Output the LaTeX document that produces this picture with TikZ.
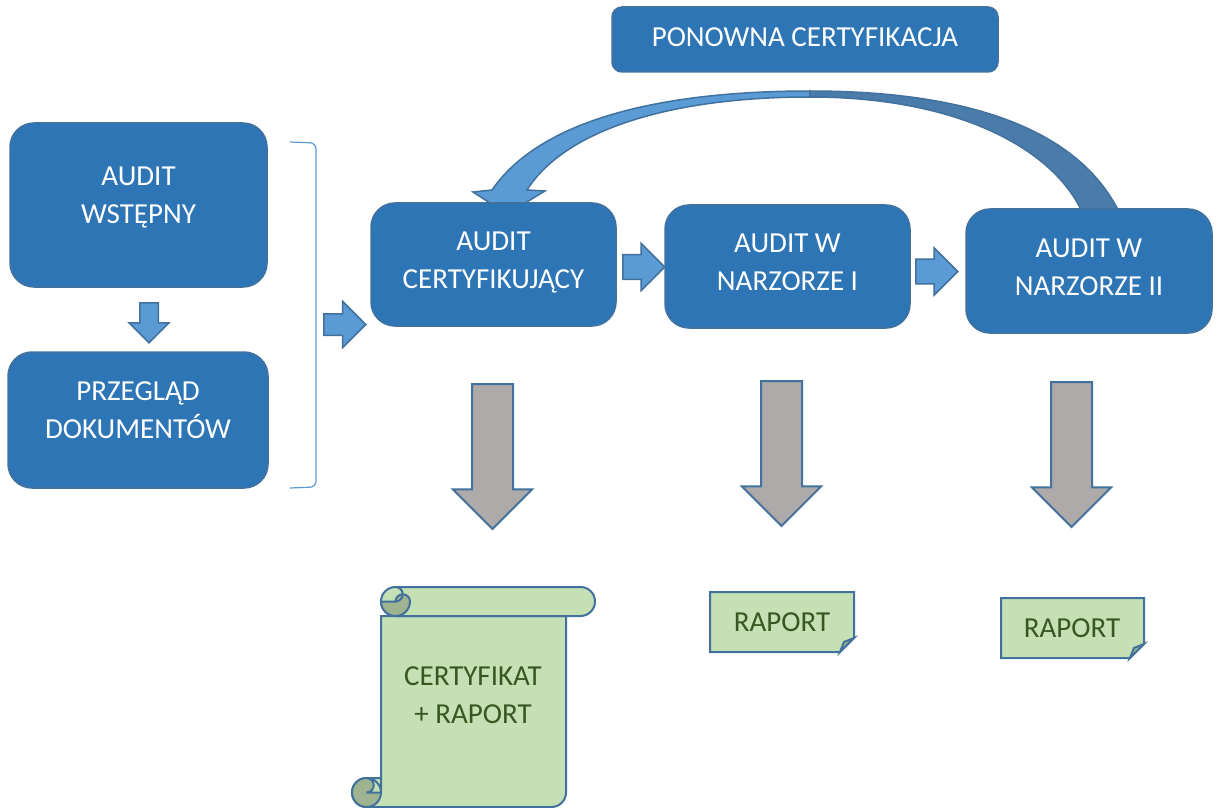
\documentclass[tikz,border=0pt]{standalone}
\usepackage{fontspec}
\setmainfont{Carlito}
\usetikzlibrary{shapes.arrows}
\definecolor{boxblue}{HTML}{2E75B6}
\definecolor{lineblue}{HTML}{41719C}
\definecolor{arrowblue}{HTML}{5B9BD5}
\definecolor{arrowdark}{HTML}{497CAA}
\definecolor{arrowgray}{HTML}{AEAAAA}
\definecolor{paper}{HTML}{C5E0B4}
\definecolor{paperdark}{HTML}{9EB390}
\definecolor{papertext}{HTML}{385723}
\tikzset{
	stage/.style={draw=lineblue, line width=0.75pt, fill=boxblue, rounded corners=12pt, text=white, align=center, inner sep=0pt, text depth=4pt, font=\fontsize{14.5}{19}\selectfont},
	bluearrow/.style={single arrow, draw=lineblue, line width=0.75pt, fill=arrowblue, inner xsep=0pt, anchor=tail},
	grayarrow/.style={single arrow, draw=lineblue, line width=1pt, fill=arrowgray, inner xsep=0pt, inner ysep=9.75pt, rotate=-90, anchor=tail, minimum height=72.5pt, single arrow head extend=9.5pt},
	paperline/.style={draw=lineblue, line width=1pt, fill=paper},
	papertxt/.style={text=papertext, align=center, inner sep=0pt, font=\fontsize{14.5}{19}\selectfont}
}

\begin{document}
\begin{tikzpicture}[x=0.5pt, y=-0.5pt]
				\useasboundingbox (0, 0) rectangle (1217, 808);
				\fill[white] (0, 0) rectangle (1217, 808);
				\filldraw[fill=arrowblue, draw=lineblue, line width=0.75pt] (810, 91) .. controls (660, 91) and (540, 120) .. (492, 190) -- (473, 192) -- (507, 214) -- (545, 191) -- (527, 190) .. controls (565, 130) and (670, 97) .. (810, 97) -- cycle;
				\filldraw[fill=arrowdark, draw=lineblue, line width=0.75pt] (810, 91) .. controls (990, 91) and (1085, 140) .. (1120, 214) -- (1083, 214) .. controls (1055, 150) and (960, 97) .. (810, 97) -- cycle;
				\draw[arrowblue, line width=0.6pt, rounded corners=3pt] (290, 142) -- (316, 143) -- (316, 487) -- (290, 488);
				\node[stage, rounded corners=5pt, minimum width=193pt, minimum height=32.5pt, text depth=2pt] (pon) at (805, 39.5) {PONOWNA CERTYFIKACJA};
				\node[stage, minimum width=128.5pt, minimum height=82pt, text depth=10pt] (wst) at (138.5, 205) {AUDIT\\WSTĘPNY};
				\node[stage, minimum width=130pt, minimum height=68pt, text depth=10pt] (prz) at (138, 420) {PRZEGLĄD\\DOKUMENTÓW};
				\node[stage, minimum width=122.5pt, minimum height=61.5pt] (cert) at (493.5, 264.5) {AUDIT\\CERTYFIKUJĄCY};
				\node[stage, minimum width=122.5pt, minimum height=61.5pt] (nar1) at (787.5, 266.5) {AUDIT W\\NARZORZE I};
				\node[stage, minimum width=123pt, minimum height=62pt] (nar2) at (1089, 271) {AUDIT W\\NARZORZE II};
				\node[bluearrow, rotate=-90, minimum height=20pt, inner ysep=4.25pt, single arrow head extend=5.25pt] (a0) at (149, 302) {};
				\node[bluearrow, minimum height=21pt, inner ysep=5pt, single arrow head extend=6.25pt] (a1) at (323, 324.5) {};
				\node[bluearrow, minimum height=21pt, inner ysep=5.75pt, single arrow head extend=5.75pt] (a2) at (622, 267) {};
				\node[bluearrow, minimum height=21pt, inner ysep=5.75pt, single arrow head extend=5.75pt] (a3) at (915, 271.5) {};
				\node[grayarrow] (g1) at (492.5, 383) {};
				\node[grayarrow] (g2) at (781.5, 380) {};
				\node[grayarrow] (g3) at (1071.5, 381) {};
				\draw[paperline] (381, 616) -- (381, 778) -- (366.5, 778) arc[start angle=-90, end angle=-270, radius=14.5] -- (551.5, 807) arc[start angle=90, end angle=0, radius=14.5] -- (566, 616) -- cycle;
				\fill[paperdark] (366.5, 792.5) circle (14.5);
				\filldraw[paperline] (366.5, 778) arc[start angle=-90, end angle=90, radius=7.25] -- (381, 792.5) -- (381, 778) -- cycle;
				\draw[lineblue, line width=1pt] (366.5, 792.5) circle (14.5);
				\draw[paperline, rounded corners=7.25pt] (381, 587) rectangle (595, 616);
				\filldraw[fill=paperdark, draw=lineblue, line width=1pt] (381, 601.5) arc[start angle=180, end angle=0, radius=14.5] arc[start angle=0, end angle=-180, radius=7.25] -- cycle;
				\draw[lineblue, line width=1pt] (395.5, 587) arc[start angle=-90, end angle=90, radius=7.25];
				\node[papertxt] (certr) at (473, 695) {CERTYFIKAT\\+ RAPORT};
				\draw[paperline] (710, 592) -- (854, 592) -- (854, 638) -- (840, 652) -- (710, 652) -- cycle;
				\filldraw[fill=paperdark, draw=lineblue, line width=1pt] (840, 652) -- (844, 642) -- (854, 638) -- cycle;
				\node[papertxt] (rap1) at (782, 622) {RAPORT};
				\draw[paperline] (1001, 598) -- (1144, 598) -- (1144, 644) -- (1130, 658) -- (1001, 658) -- cycle;
				\filldraw[fill=paperdark, draw=lineblue, line width=1pt] (1130, 658) -- (1134, 648) -- (1144, 644) -- cycle;
				\node[papertxt] (rap2) at (1072, 628) {RAPORT};
			\end{tikzpicture}
\end{document}
